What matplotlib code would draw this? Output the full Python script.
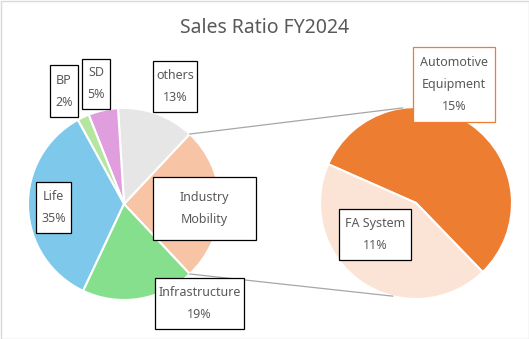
import matplotlib
matplotlib.use("Agg")
import matplotlib.pyplot as plt
from matplotlib.patches import Rectangle
import numpy as np

# ---- data ----
title = "Sales Ratio FY2024"
main_labels = ["Industry\nMobility", "others", "SD", "BP", "Life", "Infrastructure"]
main_values = [26, 13, 5, 2, 35, 19]
main_colors = ["#F7C4A6", "#E6E6E6", "#E09EDE", "#B4E6A0", "#7DC8EB", "#86DF8C"]
sub_labels = ["Automotive\nEquipment", "FA System"]
sub_values = [14.6, 11.4]
sub_colors = ["#ED7D31", "#FBE3D6"]
total = sum(main_values)

W, H = 529, 339
fig = plt.figure(figsize=(W / 100, H / 100), dpi=100)
ax = fig.add_axes([0, 0, 1, 1])

def Y(y):
    return H - y

FONT = "Noto Sans"
TXT = "#595959"

# main pie
c1 = (124, Y(204)); r1 = 96
start1 = -360 * main_values[0] / total / 2
ax.pie(main_values, colors=main_colors, center=c1, radius=r1, startangle=start1,
       counterclock=True, wedgeprops=dict(edgecolor="white", linewidth=1.5),
       frame=True)

# sub pie
c2 = (416, Y(203)); r2 = 96
start2 = -46
ax.pie(sub_values, colors=sub_colors, center=c2, radius=r2, startangle=start2,
       counterclock=True, wedgeprops=dict(edgecolor="white", linewidth=1.5),
       frame=True)
ax.set_xlim(0, W)
ax.set_ylim(0, H)
ax.axis("off")

# connector lines
for ang1, ang2 in [(-start1, 98), (start1, 256)]:
    p1 = (c1[0] + r1 * np.cos(np.deg2rad(ang1)), c1[1] + r1 * np.sin(np.deg2rad(ang1)))
    p2 = (c2[0] + r2 * np.cos(np.deg2rad(ang2)), c2[1] + r2 * np.sin(np.deg2rad(ang2)))
    ax.plot([p1[0], p2[0]], [p1[1], p2[1]], color="#A6A6A6", lw=0.9, zorder=1)

# label boxes (image pixel coordinates: x0, y0, x1, y1)
boxes = {
    "Industry\nMobility": (153, 177, 256, 240, "black"),
    "others": (153, 61, 197, 112, "black"),
    "SD": (82, 59, 110, 109, "black"),
    "BP": (50, 65, 78, 117, "black"),
    "Life": (36, 182, 71, 233, "black"),
    "Infrastructure": (155, 278, 244, 329, "black"),
    "Automotive\nEquipment": (413, 47, 495, 122, "#ED7D31"),
    "FA System": (339, 209, 411, 260, "black"),
}

def label_text(name, value):
    if name == "Industry\nMobility":
        return name
    return f"{name}\n{round(100 * value / total)}%"

for name, val in list(zip(main_labels, main_values)) + list(zip(sub_labels, sub_values)):
    x0, y0, x1, y1, ec = boxes[name]
    ax.add_patch(Rectangle((x0, Y(y1)), x1 - x0, y1 - y0, facecolor="white",
                           edgecolor=ec, lw=0.9, zorder=5))
    ax.text((x0 + x1) / 2, Y((y0 + y1) / 2), label_text(name, val), ha="center",
            va="center", fontsize=9, color=TXT, family=FONT, linespacing=1.9,
            zorder=6)

ax.text(W / 2, Y(28), title, ha="center", va="center", fontsize=14,
        color=TXT, family=FONT)

ax.add_patch(Rectangle((0.5, 0.5), W - 1, H - 1, facecolor="none",
                       edgecolor="#D9D9D9", lw=1, zorder=10))

fig.savefig("out.png", dpi=100)
